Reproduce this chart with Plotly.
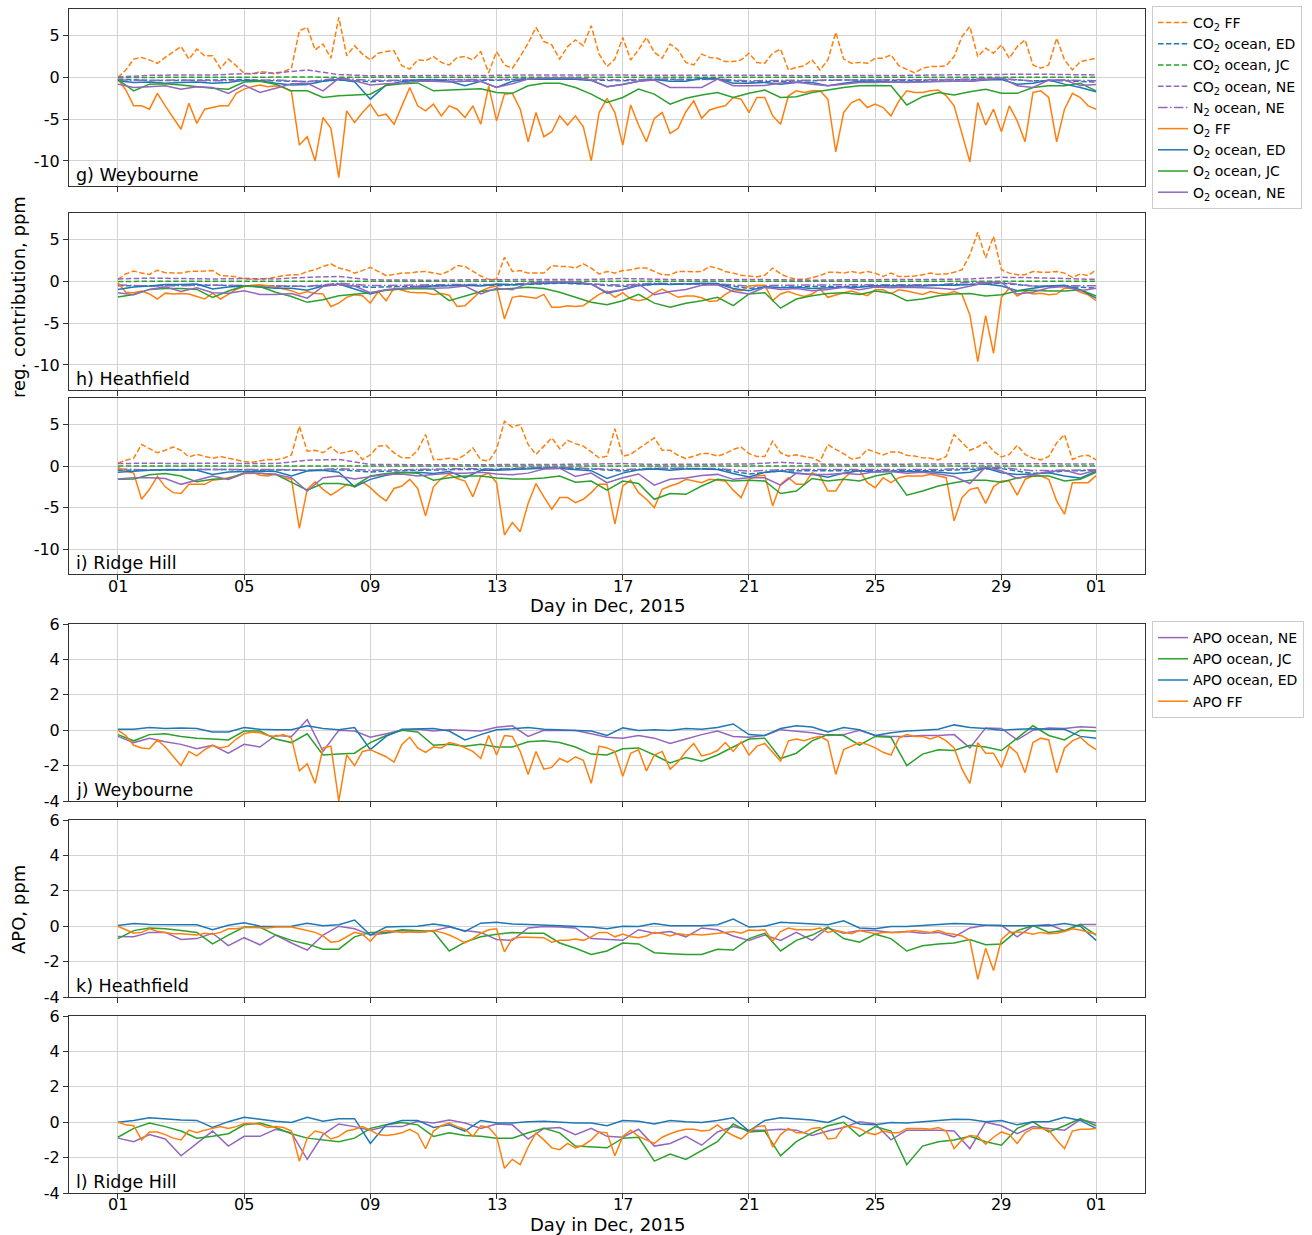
import plotly.graph_objects as go

# ---------------- time grids (days since 2015-12-01 00:00) ----------------
STEP_6H = 0.25   # 6-hourly samples
STEP_12H = 0.5   # 12-hourly samples
STEP_1D = 1.0    # daily samples

tick_days = [0, 4, 8, 12, 16, 20, 24, 28, 31]
tick_text = ["01", "05", "09", "13", "17", "21", "25", "29", "01"]
ytick_top = [-10, -5, 0, 5]
ytick_top_text = ["-10", "-5", "0", "5"]
ytick_bot = [-4, -2, 0, 2, 4, 6]
ytick_bot_text = ["-4", "-2", "0", "2", "4", "6"]

# ---------------- g) Weybourne ----------------
g_CO2_FF = [0.0, 0.9, 2.2, 2.4, 2.1, 1.7, 2.4, 3.0, 3.7, 2.2,
            3.4, 2.6, 2.6, 1.1, 2.2, 1.4, 0.5, 0.4, 0.7, 0.6,
            0.4, 0.7, 1.1, 5.6, 6.0, 3.3, 4.0, 2.3, 7.2, 2.6,
            3.8, 2.8, 2.1, 2.9, 3.1, 3.2, 1.4, 1.0, 2.1, 2.0,
            2.5, 1.8, 1.5, 2.4, 2.5, 2.1, 3.1, 0.55, 3.1, 1.5,
            1.1, 2.5, 4.1, 6.0, 4.3, 3.9, 2.2, 3.7, 4.5, 3.8,
            6.2, 2.8, 1.3, 2.2, 4.8, 2.1, 3.3, 4.8, 3.0, 2.3,
            4.0, 3.3, 1.8, 1.5, 2.8, 2.4, 2.3, 1.9, 1.9, 2.1,
            2.9, 1.8, 1.7, 2.9, 3.4, 0.9, 1.2, 1.4, 2.1, 0.9,
            2.1, 5.4, 2.2, 1.7, 1.8, 1.7, 2.3, 2.3, 2.7, 1.4,
            1.0, 0.55, 1.1, 1.3, 1.3, 1.4, 2.5, 4.9, 6.1, 2.5,
            3.5, 2.9, 3.9, 2.3, 3.7, 4.5, 1.5, 1.1, 1.5, 4.7,
            2.1, 0.9, 1.9, 2.1, 2.3]
g_O2_FF = [-0.2, -1.5, -3.4, -3.4, -3.8, -1.9, -3.4, -4.8, -6.2, -3.1,
           -5.5, -3.8, -3.6, -3.4, -3.4, -1.9, -1.4, -1.1, -0.9, -1.1,
           -1.0, -1.2, -1.7, -8.1, -7.1, -10.0, -4.8, -6.1, -12.0, -4.0,
           -5.4, -4.2, -3.2, -4.6, -4.4, -5.6, -3.4, -1.2, -3.4, -4.0,
           -3.2, -4.6, -3.4, -3.8, -4.8, -3.4, -5.6, -1.0, -5.2, -2.0,
           -1.9, -3.8, -7.7, -4.2, -7.1, -6.5, -4.6, -5.7, -4.6, -5.9,
           -10.0, -4.2, -2.5, -4.2, -8.1, -3.3, -5.7, -7.7, -4.9, -4.2,
           -6.7, -6.1, -4.1, -2.8, -4.9, -3.9, -3.6, -3.4, -2.4, -2.6,
           -4.2, -2.4, -2.4, -4.6, -5.6, -2.2, -1.6, -1.8, -1.6, -1.6,
           -2.6, -8.9, -4.2, -3.0, -2.6, -3.6, -3.2, -3.6, -4.6, -2.8,
           -1.6, -1.8, -1.8, -1.6, -1.5, -2.2, -3.4, -6.9, -10.1, -3.0,
           -5.7, -3.8, -6.5, -3.4, -5.2, -7.7, -1.8, -1.6, -2.4, -7.7,
           -3.8, -1.9, -2.4, -3.4, -3.8]
g_O2_ED = [-0.4, -0.6, -0.55, -0.7, -0.6, -0.55, -0.7, -0.6, -0.35, -0.4,
           -0.7, -0.9, -0.85, -0.45, -0.25, -0.5, -2.6, -0.9, -0.5, -0.3,
           -0.3, -0.45, -1.0, -0.45, -1.2, -0.45, -0.2, -0.2, -0.2, -0.2,
           -0.35, -1.1, -0.85, -0.45, -0.25, -0.45, -0.45, -0.1, -0.15, -0.7,
           -0.7, -0.6, -0.8, -0.6, -0.6, -1.0, -0.7, -0.45, -0.45, -0.55,
           -0.55, -0.5, -0.45, -0.45, -0.45, -0.3, -0.25, -0.8, -0.7, -0.3,
           -0.8, -1.2, -1.7]
g_O2_JC = [-0.25, -1.6, -0.8, -0.75, -0.9, -1.1, -1.3, -1.4, -0.55, -0.45,
           -0.8, -1.6, -1.6, -2.4, -2.2, -2.1, -2.0, -0.95, -0.75, -0.65,
           -1.6, -1.5, -1.4, -1.35, -1.8, -1.9, -1.0, -0.7, -0.7, -1.2,
           -2.0, -3.0, -2.4, -1.4, -2.0, -3.2, -2.5, -2.1, -1.8, -2.4,
           -1.9, -1.5, -2.4, -2.3, -1.8, -1.5, -1.2, -1.0, -0.95, -1.0,
           -3.3, -2.3, -1.8, -2.1, -1.7, -1.4, -1.9, -1.9, -1.2, -1.0,
           -1.0, -0.7, -1.6]
g_O2_NE = [-0.8, -1.2, -1.1, -1.0, -1.4, -1.1, -1.2, -1.9, -0.9, -1.8,
           -1.3, -0.75, -0.7, -1.6, -0.1, -0.4, -0.9, -0.75, -0.7, -0.45,
           -0.45, -0.55, -0.45, -0.45, -1.2, -0.75, -0.2, -0.05, -0.05, -0.05,
           -0.3, -1.1, -0.8, -0.45, -0.3, -1.2, -1.2, -1.2, -0.2, -1.0,
           -1.0, -0.95, -0.65, -0.55, -0.8, -1.0, -0.8, -0.6, -0.6, -0.55,
           -0.6, -0.5, -0.45, -0.45, -0.45, -0.25, -0.05, -1.0, -1.2, -0.3,
           -0.3, -0.95, -0.85]
g_CO2_ED = [-0.2, -0.35, -0.35, -0.3, -0.25, -0.4, -0.5, -0.3, -0.5, -0.35, -0.25,
            -0.3, -0.35, -0.15, -0.1, -0.3, -0.4, -0.2, -0.2, -0.2, -0.55, -0.45,
            -0.35, -0.3, -0.3, -0.35, -0.3, -0.25, -0.2, -0.4, -0.4, -0.55]
g_CO2_JC = [0.0, 0.02, 0.03, 0.02, 0.03, 0.03, 0.05, 0.02, 0.02, 0.02, 0.03,
            0.03, 0.02, 0.02, 0.02, 0.03, 0.03, 0.02, 0.03, 0.03, 0.04, 0.03,
            0.02, 0.02, 0.02, 0.03, 0.03, 0.03, 0.02, 0.03, 0.03, 0.02]
g_CO2_NE = [0.05, 0.25, 0.3, 0.3, 0.45, 0.55, 0.9, 0.35, 0.2, 0.2, 0.2,
            0.25, 0.25, 0.3, 0.3, 0.3, 0.25, 0.3, 0.25, 0.25, 0.3, 0.25,
            0.2, 0.2, 0.25, 0.25, 0.3, 0.35, 0.4, 0.4, 0.35, 0.3]
g_N2_NE = [-0.3, -0.35, -0.3, -0.4, -0.35, -0.3, -0.5, -0.1, -0.35, -0.3, -0.25,
           -0.25, -0.25, -0.15, -0.1, -0.2, -0.3, -0.2, -0.3, -0.2, -0.4, -0.35,
           -0.3, -0.3, -0.3, -0.3, -0.25, -0.2, -0.1, -0.45, -0.3, -0.4]

# ---------------- h) Heathfield ----------------
h_CO2_FF = [0.25, 0.9, 1.25, 1.0, 0.85, 1.35, 1.05, 1.0, 1.0, 1.2,
            1.2, 1.25, 1.3, 0.7, 0.65, 0.55, 0.3, 0.25, 0.25, 0.35,
            0.55, 0.7, 0.8, 0.8, 1.2, 1.4, 1.8, 2.1, 1.6, 1.4,
            1.0, 1.3, 1.7, 1.2, 0.7, 0.85, 1.0, 1.0, 1.15, 1.2,
            1.0, 0.85, 1.25, 1.9, 1.8, 1.2, 0.65, 0.25, 0.25, 2.9,
            1.2, 1.3, 1.0, 1.0, 1.0, 1.9, 1.8, 1.8, 1.6, 2.1,
            1.6, 0.9, 1.2, 1.0, 1.3, 1.4, 1.6, 1.6, 1.2, 0.8,
            0.8, 1.2, 1.2, 1.15, 1.2, 1.8, 1.6, 1.2, 1.0, 0.75,
            0.65, 0.55, 0.75, 1.6, 0.9, 0.5, 0.25, 0.25, 0.45, 0.7,
            1.1, 1.1, 1.0, 1.2, 1.0, 1.2, 1.0, 0.6, 1.0, 0.6,
            0.6, 0.65, 0.8, 1.0, 0.85, 0.9, 1.1, 1.4, 3.2, 5.9,
            2.8, 5.4, 1.4, 1.0, 0.8, 0.8, 1.2, 1.1, 1.1, 1.2,
            1.0, 0.5, 0.9, 0.7, 1.4]
h_O2_FF = [-0.15, -1.3, -1.35, -1.15, -1.5, -2.1, -1.4, -1.5, -1.45, -1.5,
           -1.8, -2.1, -1.4, -2.1, -1.55, -0.95, -0.6, -0.45, -0.4, -0.5,
           -0.7, -0.9, -1.1, -1.5, -1.2, -1.45, -1.5, -3.0, -2.6, -1.9,
           -1.6, -1.7, -2.6, -1.2, -2.3, -0.8, -1.05, -1.3, -1.35, -1.35,
           -1.55, -1.45, -1.65, -3.0, -2.9, -2.0, -1.15, -0.75, -0.55, -4.5,
           -1.9, -1.75, -1.9, -2.0, -1.55, -3.1, -3.1, -2.9, -3.0, -2.9,
           -2.2, -1.55, -1.15, -1.9, -1.35, -2.1, -2.3, -2.1, -1.4, -0.9,
           -1.4, -1.9, -1.75, -1.75, -1.95, -2.4, -2.3, -1.55, -1.0, -1.1,
           -0.55, -0.45, -0.45, -2.3, -1.5, -1.2, -1.55, -1.8, -1.5, -0.9,
           -1.9, -1.6, -1.35, -1.15, -1.4, -1.7, -1.0, -1.0, -1.45, -1.0,
           -1.15, -1.35, -1.55, -1.2, -1.4, -1.5, -1.2, -1.55, -4.0, -9.6,
           -4.1, -8.6, -1.9, -0.8, -1.75, -1.2, -1.5, -1.4, -1.6, -1.5,
           -0.8, -0.8, -1.3, -1.6, -2.3]
h_O2_ED = [-0.95, -0.65, -0.55, -0.35, -0.35, -0.3, -0.9, -0.65, -0.55, -0.65,
           -0.8, -0.8, -1.05, -0.55, -0.3, -0.9, -1.5, -1.0, -0.9, -0.6,
           -0.55, -0.55, -0.45, -0.55, -0.3, -0.4, -0.3, -0.25, -0.15, -0.2,
           -0.3, -1.4, -1.0, -0.5, -0.3, -0.35, -0.3, -0.2, -0.25, -0.85,
           -1.1, -0.6, -0.75, -0.7, -0.85, -0.75, -0.7, -0.7, -0.5, -0.55,
           -0.55, -0.55, -0.45, -0.45, -0.35, -0.3, -0.55, -1.1, -0.8, -0.55,
           -0.45, -1.0, -2.0]
h_O2_JC = [-1.85, -1.55, -0.95, -0.85, -0.85, -0.95, -1.9, -1.15, -0.55, -0.6,
           -1.3, -1.8, -2.5, -2.2, -1.7, -1.55, -1.35, -1.05, -0.9, -0.85,
           -0.9, -2.3, -1.75, -1.2, -0.95, -0.8, -0.7, -0.85, -1.3, -1.9,
           -2.5, -2.8, -2.3, -1.55, -2.6, -3.1, -2.6, -2.3, -1.9, -2.9,
           -1.5, -1.35, -3.2, -2.1, -1.7, -1.45, -1.35, -1.55, -1.15, -1.4,
           -2.3, -2.1, -1.7, -1.5, -1.45, -1.75, -1.6, -1.15, -1.05, -1.15,
           -1.15, -1.0, -1.75]
h_O2_NE = [-1.35, -1.6, -0.95, -0.65, -1.2, -0.75, -1.35, -1.4, -1.1, -1.55,
           -1.55, -1.45, -2.0, -0.6, -0.35, -0.55, -1.35, -1.0, -0.8, -0.7,
           -0.8, -0.75, -0.55, -1.5, -0.8, -1.0, -0.2, -0.05, -0.05, -0.05,
           -0.3, -1.3, -1.0, -0.3, -1.6, -1.2, -0.95, -0.45, -0.4, -1.2,
           -1.5, -0.7, -0.95, -0.85, -1.1, -0.95, -0.7, -1.0, -0.65, -0.75,
           -0.7, -0.75, -0.8, -0.95, -0.55, -0.15, -0.15, -1.5, -1.3, -0.75,
           -0.6, -1.1, -0.8]
h_CO2_ED = [-0.5, -0.55, -0.4, -0.45, -0.5, -0.55, -0.6, -0.4, -0.7, -0.6, -0.5,
            -0.45, -0.5, -0.35, -0.2, -0.35, -0.6, -0.35, -0.3, -0.35, -0.8, -0.7,
            -0.6, -0.6, -0.55, -0.5, -0.45, -0.35, -0.2, -0.55, -0.6, -0.8]
h_CO2_JC = [0.01, 0.02, 0.02, 0.03, 0.02, 0.02, 0.03, 0.02, 0.02, 0.02, 0.02,
            0.02, 0.02, 0.02, 0.01, 0.02, 0.03, 0.02, 0.02, 0.02, 0.03, 0.02,
            0.02, 0.02, 0.02, 0.02, 0.02, 0.02, 0.02, 0.02, 0.03, 0.02]
h_CO2_NE = [0.3, 0.4, 0.35, 0.3, 0.35, 0.3, 0.5, 0.6, 0.2, 0.15, 0.15,
            0.2, 0.2, 0.2, 0.2, 0.25, 0.35, 0.25, 0.2, 0.2, 0.25, 0.2,
            0.15, 0.2, 0.2, 0.2, 0.25, 0.3, 0.5, 0.45, 0.35, 0.25]
h_N2_NE = [-0.4, -0.55, -0.5, -0.45, -0.5, -0.5, -0.6, -0.2, -0.5, -0.45, -0.4,
           -0.35, -0.4, -0.2, -0.05, -0.3, -0.45, -0.2, -0.3, -0.3, -0.55, -0.45,
           -0.4, -0.4, -0.4, -0.4, -0.4, -0.1, -0.1, -0.55, -0.5, -0.5]

# ---------------- i) Ridge Hill ----------------
i_CO2_FF = [0.35, 0.7, 0.95, 2.6, 2.1, 1.6, 1.9, 2.3, 1.9, 1.1,
            1.4, 1.15, 0.95, 1.15, 0.95, 0.75, 0.55, 0.45, 0.6, 0.8,
            0.75, 0.95, 1.35, 4.8, 1.8, 1.9, 1.6, 2.3, 1.5, 1.7,
            1.9, 0.8, 1.35, 2.4, 2.5, 1.6, 1.0, 1.0, 1.9, 3.8,
            0.8, 0.8, 0.95, 0.8, 1.35, 2.2, 0.75, 0.6, 2.0, 5.4,
            4.7, 5.0, 2.6, 1.4, 2.4, 3.4, 2.1, 3.1, 2.7, 2.4,
            1.7, 1.0, 1.2, 4.5, 1.2, 1.4, 2.1, 2.8, 3.4, 1.9,
            1.9, 1.3, 0.9, 1.2, 1.5, 1.5, 1.2, 1.5, 2.0, 2.3,
            1.5, 1.15, 1.15, 3.0, 1.6, 1.2, 1.35, 1.15, 1.0, 0.55,
            2.6, 2.0, 1.5, 0.85, 1.0, 2.0, 1.7, 1.35, 1.7, 1.7,
            1.3, 1.2, 1.0, 0.95, 0.75, 1.15, 3.8, 2.8, 1.9, 2.3,
            2.9, 1.8, 1.1, 1.4, 2.5, 1.4, 0.95, 0.75, 1.15, 2.8,
            3.8, 0.8, 1.2, 1.3, 0.75]
i_O2_FF = [-0.15, -0.6, -0.85, -4.0, -2.8, -1.25, -2.5, -3.2, -3.3, -2.2,
           -2.2, -2.2, -1.7, -1.6, -1.4, -1.2, -0.8, -0.7, -1.1, -1.2,
           -0.95, -1.4, -1.6, -7.5, -2.8, -1.9, -2.8, -3.5, -2.9, -2.2,
           -2.5, -1.9, -2.6, -3.5, -4.2, -2.7, -2.4, -1.6, -2.7, -6.0,
           -2.5, -1.5, -1.0, -1.5, -1.8, -3.7, -1.2, -0.85, -2.0, -8.3,
           -6.8, -7.9, -4.5, -2.1, -3.7, -5.2, -3.8, -3.8, -4.4, -4.0,
           -3.2, -2.2, -2.2, -7.0, -2.4, -1.7, -3.2, -4.0, -5.0, -2.8,
           -2.4, -2.1, -1.6, -1.8, -2.0, -1.6, -1.7, -1.8, -2.9, -3.8,
           -1.6, -1.2, -1.1, -4.8, -2.2, -1.4, -2.2, -2.2, -0.8, -1.2,
           -3.0, -3.0, -1.5, -0.7, -0.5, -2.0, -2.6, -1.4, -2.0, -1.4,
           -1.2, -1.2, -1.2, -1.0, -1.2, -1.4, -6.6, -3.8, -2.8, -2.6,
           -4.5, -2.5, -1.8, -1.8, -3.5, -1.6, -1.2, -1.2, -1.6, -4.2,
           -5.8, -2.0, -2.0, -2.0, -1.15]
i_O2_ED = [-0.75, -0.6, -0.5, -0.45, -0.5, -0.5, -1.0, -0.7, -0.65, -0.6,
           -0.65, -1.2, -0.6, -0.5, -0.75, -2.5, -1.6, -1.1, -0.8, -0.75,
           -0.9, -0.65, -1.4, -0.5, -0.5, -0.4, -0.3, -0.25, -0.3, -0.4,
           -0.55, -1.5, -0.85, -0.45, -0.35, -0.5, -0.35, -0.35, -0.4, -0.9,
           -1.3, -0.75, -0.6, -0.85, -1.0, -1.35, -0.85, -0.55, -0.7, -0.65,
           -0.65, -0.65, -0.75, -0.9, -0.75, -0.25, -0.8, -1.0, -0.95, -0.8,
           -1.2, -1.45, -0.6]
i_O2_JC = [-1.6, -1.55, -1.05, -0.9, -1.2, -1.9, -1.6, -1.5, -0.85, -0.85,
           -1.0, -2.0, -2.9, -2.1, -2.1, -2.4, -1.2, -0.9, -0.75, -0.85,
           -1.7, -1.4, -1.2, -1.2, -1.45, -1.55, -1.55, -1.45, -1.2, -1.95,
           -1.8, -2.9, -1.8, -2.1, -4.0, -3.3, -3.4, -2.4, -1.6, -1.8,
           -1.7, -1.8, -3.3, -3.0, -1.5, -1.8, -1.6, -1.8, -1.2, -0.85,
           -3.5, -3.0, -2.4, -2.0, -1.7, -1.7, -1.95, -1.45, -1.2, -1.2,
           -1.8, -1.6, -0.75]
i_O2_NE = [-1.55, -1.4, -1.4, -1.5, -2.2, -1.7, -1.2, -1.6, -0.9, -0.85,
           -1.0, -1.4, -3.0, -1.4, -1.2, -1.55, -1.25, -1.0, -0.95, -1.2,
           -1.0, -0.85, -0.85, -0.75, -0.95, -1.05, -0.85, -0.35, -0.25, -1.25,
           -0.85, -2.0, -1.4, -0.95, -2.3, -1.6, -1.45, -1.15, -1.0, -1.6,
           -1.4, -1.4, -2.3, -0.85, -1.0, -1.0, -0.85, -1.0, -0.65, -0.65,
           -0.85, -0.75, -0.95, -1.25, -2.1, -0.1, -0.6, -1.5, -1.05, -0.65,
           -0.5, -1.0, -0.5]
i_CO2_ED = [-0.5, -0.45, -0.4, -0.4, -0.45, -0.5, -0.5, -0.45, -0.7, -0.55, -0.45,
            -0.4, -0.4, -0.25, -0.2, -0.35, -0.6, -0.3, -0.3, -0.35, -0.95, -0.6,
            -0.55, -0.55, -0.6, -0.6, -0.55, -0.4, -0.3, -0.9, -0.6, -0.5]
i_CO2_JC = [0.01, 0.02, 0.02, 0.02, 0.02, 0.03, 0.03, 0.02, 0.02, 0.02, 0.02,
            0.02, 0.02, 0.02, 0.02, 0.02, 0.03, 0.02, 0.02, 0.02, 0.03, 0.02,
            0.02, 0.02, 0.02, 0.02, 0.02, 0.02, 0.02, 0.02, 0.02, 0.02]
i_CO2_NE = [0.3, 0.35, 0.3, 0.35, 0.3, 0.3, 0.7, 0.8, 0.2, 0.15, 0.15,
            0.15, 0.2, 0.2, 0.2, 0.25, 0.3, 0.2, 0.2, 0.2, 0.25, 0.45,
            0.25, 0.2, 0.2, 0.2, 0.25, 0.3, 0.3, 0.3, 0.3, 0.25]
i_N2_NE = [-0.35, -0.45, -0.4, -0.4, -0.45, -0.4, -0.5, -0.3, -0.5, -0.45, -0.35,
           -0.3, -0.35, -0.2, -0.15, -0.3, -0.45, -0.25, -0.25, -0.3, -0.6, -0.45,
           -0.4, -0.4, -0.45, -0.45, -0.4, -0.25, -0.2, -0.55, -0.5, -0.45]

# ---------------- j) Weybourne APO ----------------
j_APO_FF = [0.0, -0.3, -0.85, -1.0, -1.05, -0.55, -0.95, -1.5, -2.0, -1.2,
            -1.45, -1.1, -0.85, -1.0, -0.9, -0.5, -0.2, -0.1, -0.15, -0.3,
            -0.35, -0.25, -0.45, -2.3, -1.9, -3.0, -1.0, -0.9, -4.0, -1.4,
            -2.0, -1.2, -1.1, -1.3, -1.5, -1.8, -0.8, -0.4, -1.0, -1.25,
            -0.95, -1.0, -0.7, -0.8, -1.0, -1.2, -1.6, -0.3, -1.4, -0.3,
            -0.35, -1.2, -2.5, -1.2, -2.2, -2.1, -1.6, -1.8, -1.5, -1.7,
            -3.0, -0.9, -1.0, -1.2, -2.6, -1.3, -1.1, -2.3, -1.4, -1.2,
            -2.2, -1.8, -1.2, -0.75, -1.45, -1.35, -1.15, -0.7, -1.2, -0.65,
            -1.4, -0.9, -0.75, -1.25, -1.75, -0.6, -0.5, -0.6, -0.45, -0.35,
            -0.6, -2.5, -1.1, -0.9, -0.7, -0.8, -1.0, -1.25, -1.4, -0.45,
            -0.25, -0.35, -0.35, -0.5, -0.35, -0.6, -1.0, -2.2, -3.0, -0.7,
            -1.3, -1.3, -2.1, -0.9, -1.3, -2.4, -0.7, -0.45, -0.55, -2.4,
            -1.0, -0.6, -0.4, -0.8, -1.1]
j_APO_ED = [0.05, 0.05, 0.15, 0.1, 0.12, 0.1, -0.1, -0.1, 0.15, 0.05,
            0.03, 0.03, 0.25, 0.1, 0.03, 0.15, -1.1, -0.35, 0.05, 0.08,
            0.1, -0.05, -0.55, -0.25, 0.03, 0.08, 0.15, 0.05, 0.02, 0.0,
            -0.05, -0.3, 0.13, -0.02, 0.03, -0.02, 0.1, 0.05, 0.15, 0.35,
            -0.25, -0.3, 0.1, 0.25, 0.18, -0.1, 0.15, 0.03, -0.3, -0.15,
            -0.05, 0.0, 0.05, 0.3, 0.15, 0.1, 0.0, 0.05, 0.08, 0.05,
            0.05, -0.35, -0.45]
j_APO_JC = [-0.25, -0.6, -0.25, -0.2, -0.35, -0.45, -0.5, -0.55, -0.05, -0.05,
            -0.5, -0.7, -0.2, -1.4, -1.35, -1.3, -0.7, -0.3, 0.0, -0.1,
            -0.85, -0.8, -0.9, -0.8, -0.95, -0.95, -0.65, -0.6, -0.7, -0.95,
            -1.35, -1.4, -1.05, -1.0, -1.4, -1.85, -1.55, -1.75, -1.4, -0.95,
            -0.5, -0.45, -1.6, -1.3, -0.6, -0.25, -0.3, -0.85, -0.35, -0.4,
            -2.0, -1.35, -1.1, -1.15, -0.85, -0.95, -1.15, -0.45, 0.25, -0.3,
            -0.55, 0.0, -0.05]
j_APO_NE = [-0.35, -0.7, -0.45, -0.65, -0.8, -1.05, -0.85, -1.3, -0.8, -0.95,
            -0.3, -0.35, 0.6, -1.2, 0.0, -0.05, -0.4, -0.2, 0.0, 0.05,
            -0.05, 0.02, -0.02, -0.05, 0.17, 0.25, -0.35, 0.0, -0.02, -0.02,
            -0.2, -0.4, -0.45, -0.3, -0.45, -0.75, -0.5, -0.25, -0.05, -0.35,
            -0.4, -0.3, 0.03, -0.05, -0.15, -0.3, -0.25, 0.0, -0.3, -0.35,
            -0.35, -0.3, -0.3, -0.25, -1.0, 0.13, 0.1, -0.55, 0.0, 0.13,
            0.1, 0.2, 0.15]

# ---------------- k) Heathfield APO ----------------
k_APO_FF = [0.0, -0.2, -0.4, -0.35, -0.15, -0.28, -0.35, -0.42, -0.42, -0.48,
            -0.5, -0.4, -0.45, -0.35, -0.15, -0.15, -0.07, -0.07, -0.1, -0.1,
            -0.05, -0.05, -0.05, -0.15, -0.25, -0.35, -0.55, -0.9, -0.85, -0.6,
            -0.35, -0.45, -0.85, -0.35, -0.25, -0.3, -0.35, -0.33, -0.33, -0.33,
            -0.25, -0.35, -0.5, -0.7, -0.95, -0.7, -0.4, -0.2, -0.15, -1.45,
            -0.7, -0.62, -0.62, -0.62, -0.65, -0.9, -0.8, -0.8, -0.72, -0.8,
            -0.6, -0.35, -0.35, -0.6, -0.45, -0.6, -0.65, -0.55, -0.35, -0.42,
            -0.55, -0.42, -0.5, -0.45, -0.5, -0.45, -0.42, -0.35, -0.3, -0.4,
            -0.22, -0.25, -0.2, -0.85, -0.3, -0.1, -0.2, -0.22, -0.2, -0.1,
            -0.35, -0.25, -0.35, -0.42, -0.25, -0.35, -0.42, -0.35, -0.35, -0.35,
            -0.3, -0.25, -0.3, -0.35, -0.25, -0.4, -0.45, -0.55, -0.8, -3.0,
            -1.25, -2.5, -0.75, -0.35, -0.33, -0.35, -0.45, -0.35, -0.42, -0.4,
            -0.3, -0.15, -0.22, -0.35, -0.45]
k_APO_ED = [0.04, 0.15, 0.1, 0.1, 0.1, 0.08, -0.2, 0.05, 0.2, 0.0,
            -0.02, 0.0, 0.17, 0.03, 0.08, 0.35, -0.5, -0.05, -0.02, 0.0,
            0.12, 0.0, -0.3, 0.17, 0.22, 0.12, 0.09, 0.05, 0.03, -0.05,
            -0.05, -0.15, 0.0, -0.02, 0.15, 0.03, 0.03, 0.03, 0.08, 0.4,
            -0.05, 0.0, 0.22, 0.17, 0.12, 0.08, 0.3, -0.1, -0.15, -0.02,
            -0.02, 0.03, 0.08, 0.15, 0.12, 0.05, 0.03, 0.03, 0.03, 0.03,
            0.15, 0.0, -0.8]
k_APO_JC = [-0.7, -0.25, -0.1, -0.15, -0.25, -0.35, -1.0, -0.5, -0.05, -0.05,
            -0.5, -0.8, -1.0, -1.3, -1.3, -0.6, -0.35, -0.35, -0.2, -0.25,
            -0.3, -1.4, -0.9, -0.6, -0.45, -0.35, -0.4, -0.4, -0.95, -1.25,
            -1.6, -1.4, -0.95, -1.0, -1.5, -1.55, -1.6, -1.6, -1.3, -1.35,
            -0.7, -0.4, -1.4, -0.8, -0.5, -0.05, -0.7, -0.9, -0.45, -0.7,
            -1.4, -1.1, -1.0, -0.95, -0.75, -1.05, -1.0, -0.25, 0.03, -0.35,
            -0.25, 0.1, -0.5]
k_APO_NE = [-0.58, -0.6, -0.35, -0.35, -0.75, -0.7, -0.4, -1.1, -0.65, -1.05,
            -0.5, -0.95, -1.35, -0.5, 0.0, -0.15, -0.5, -0.4, -0.25, -0.35,
            -0.25, -0.05, -0.25, -0.35, -0.75, -0.8, -0.1, -0.02, -0.05, -0.1,
            -0.7, -0.75, -0.8, -0.2, -0.4, -0.3, -0.6, -0.1, -0.2, -0.55,
            -0.8, -0.5, -0.8, -0.35, -0.8, -0.1, -0.4, -0.25, -0.25, -0.35,
            -0.3, -0.4, -0.35, -0.6, -0.1, 0.05, 0.05, -0.6, 0.02, 0.1,
            -0.25, 0.1, 0.1]

# ---------------- l) Ridge Hill APO ----------------
l_APO_FF = [0.0, -0.15, -0.2, -1.0, -0.55, -0.55, -0.7, -0.9, -1.0, -0.45,
            -0.6, -0.45, -0.35, -0.25, -0.35, -0.25, -0.07, -0.07, -0.12, -0.3,
            -0.25, -0.3, -0.5, -2.2, -0.9, -0.5, -0.6, -0.95, -0.8, -0.5,
            -0.4, -0.25, -0.45, -0.7, -0.75, -0.7, -0.6, -0.4, -0.65, -1.5,
            -0.5, -0.2, -0.05, -0.25, -0.4, -0.8, -0.2, -0.3, -0.8, -2.6,
            -2.1, -2.4, -1.4, -0.6, -1.0, -1.45, -1.55, -1.2, -1.45, -1.3,
            -1.0, -0.55, -0.6, -1.9, -0.8, -0.45, -0.8, -1.0, -1.2, -0.85,
            -0.65, -0.5, -0.4, -0.4, -0.5, -0.45, -0.15, -0.5, -0.75, -0.95,
            -0.55, -0.25, -0.2, -1.4, -0.7, -0.35, -0.6, -0.6, -0.35, -0.3,
            -0.95, -0.9, -0.25, -0.25, -0.35, -0.6, -0.7, -0.5, -0.6, -0.6,
            -0.35, -0.35, -0.35, -0.4, -0.3, -0.5, -1.5, -1.0, -0.75, -0.8,
            -1.25, -0.85, -0.55, -0.7, -1.2, -0.6, -0.35, -0.35, -0.45, -1.0,
            -1.5, -0.5, -0.4, -0.4, -0.35]
l_APO_ED = [0.0, 0.1, 0.25, 0.17, 0.13, 0.1, -0.3, 0.03, 0.28, 0.17,
            0.05, -0.02, 0.28, 0.05, 0.2, 0.2, -1.2, -0.15, 0.1, 0.1,
            -0.3, -0.15, -0.5, 0.1, -0.05, -0.05, 0.03, 0.05, 0.0, -0.05,
            -0.05, -0.2, 0.1, 0.05, -0.1, 0.1, 0.03, -0.02, 0.1, 0.25,
            -0.5, 0.1, 0.25, 0.17, 0.12, -0.02, 0.35, -0.1, -0.15, -0.02,
            -0.05, 0.03, 0.1, 0.17, 0.15, 0.03, 0.1, -0.15, 0.03, 0.03,
            0.28, 0.1, -0.35]
l_APO_JC = [-0.85, -0.35, -0.05, -0.25, -0.5, -0.9, -0.8, -0.65, -0.15, -0.05,
            -0.3, -0.65, -0.9, -1.0, -1.1, -0.9, -0.35, -0.15, -0.02, -0.15,
            -0.8, -0.6, -0.75, -0.8, -0.9, -0.9, -0.6, -0.35, -0.6, -1.35,
            -1.4, -1.45, -0.9, -0.85, -2.2, -1.8, -2.1, -1.6, -1.1, -0.1,
            -0.55, -0.5, -1.9, -1.1, -0.6, -0.2, 0.0, -0.8, -0.25, -0.5,
            -2.4, -1.35, -1.1, -1.0, -0.8, -1.1, -1.3, -0.35, 0.02, -0.55,
            -0.2, 0.2, -0.2]
l_APO_NE = [-0.9, -1.1, -0.7, -0.95, -1.9, -1.2, -0.5, -1.35, -0.8, -0.8,
            -0.4, -0.6, -2.1, -0.7, -0.1, -0.25, -0.45, -0.25, -0.25, 0.05,
            -0.05, 0.12, -0.05, -0.35, -0.1, -0.15, -0.95, -0.35, -0.3, -0.7,
            -0.35, -0.8, -0.85, -0.4, -1.35, -1.2, -0.8, -1.3, -0.55, -0.25,
            -0.45, -0.45, -0.4, -0.45, -0.75, -0.5, -0.3, 0.02, -0.1, -1.0,
            -0.45, -0.45, -0.45, -0.5, -1.5, 0.0, -0.2, -0.65, -0.25, -0.35,
            -0.45, 0.15, -0.05]

# ---------------- styling ----------------
BLUE, ORANGE, GREEN, PURPLE = "#1f77b4", "#ff7f0e", "#2ca02c", "#9467bd"
DASH = "5.5px,2.4px"
DASHDOT = "9.6px,2.4px,1.5px,2.4px"
FONT = "DejaVu Sans"

W, H = 1312, 1235
X0, X1 = 69, 1145
panels = {  # axis index: (top px, bottom px)
    1: (9, 186), 2: (213, 390), 3: (398, 574),
    4: (624, 801), 5: (820, 997), 6: (1016, 1193),
}


def py(p):
    return 1 - p / H


fig = go.Figure()


def add(vals, step, ax, name, color, dash, legend, show):
    xs = [k * step for k in range(len(vals))]
    suffix = "" if ax == 1 else str(ax)
    fig.add_trace(go.Scatter(
        x=xs, y=vals, mode="lines", name=name,
        line=dict(color=color, width=1.5, dash=dash),
        xaxis="x" + suffix, yaxis="y" + suffix,
        showlegend=show, legend=legend, legendgroup=name + legend,
        hoverinfo="skip"))


top_sets = [
    (1, g_CO2_FF, g_CO2_ED, g_CO2_JC, g_CO2_NE, g_N2_NE, g_O2_FF, g_O2_ED, g_O2_JC, g_O2_NE),
    (2, h_CO2_FF, h_CO2_ED, h_CO2_JC, h_CO2_NE, h_N2_NE, h_O2_FF, h_O2_ED, h_O2_JC, h_O2_NE),
    (3, i_CO2_FF, i_CO2_ED, i_CO2_JC, i_CO2_NE, i_N2_NE, i_O2_FF, i_O2_ED, i_O2_JC, i_O2_NE),
]
for ax, cff, ced, cjc, cne, nne, off, oed, ojc, one in top_sets:
    show = ax == 1
    add(cff, STEP_6H, ax, "CO<sub>2</sub> FF", ORANGE, DASH, "legend", show)
    add(ced, STEP_1D, ax, "CO<sub>2</sub> ocean, ED", BLUE, DASH, "legend", show)
    add(cjc, STEP_1D, ax, "CO<sub>2</sub> ocean, JC", GREEN, DASH, "legend", show)
    add(cne, STEP_1D, ax, "CO<sub>2</sub> ocean, NE", PURPLE, DASH, "legend", show)
    add(nne, STEP_1D, ax, "N<sub>2</sub> ocean, NE", PURPLE, DASHDOT, "legend", show)
    add(off, STEP_6H, ax, "O<sub>2</sub> FF", ORANGE, "solid", "legend", show)
    add(oed, STEP_12H, ax, "O<sub>2</sub> ocean, ED", BLUE, "solid", "legend", show)
    add(ojc, STEP_12H, ax, "O<sub>2</sub> ocean, JC", GREEN, "solid", "legend", show)
    add(one, STEP_12H, ax, "O<sub>2</sub> ocean, NE", PURPLE, "solid", "legend", show)

bottom_sets = [
    (4, j_APO_NE, j_APO_JC, j_APO_ED, j_APO_FF),
    (5, k_APO_NE, k_APO_JC, k_APO_ED, k_APO_FF),
    (6, l_APO_NE, l_APO_JC, l_APO_ED, l_APO_FF),
]
for ax, ne, jc, ed, ff in bottom_sets:
    show = ax == 4
    add(ne, STEP_12H, ax, "APO ocean, NE", PURPLE, "solid", "legend2", show)
    add(jc, STEP_12H, ax, "APO ocean, JC", GREEN, "solid", "legend2", show)
    add(ed, STEP_12H, ax, "APO ocean, ED", BLUE, "solid", "legend2", show)
    add(ff, STEP_6H, ax, "APO FF", ORANGE, "solid", "legend2", show)

layout = dict(
    width=W, height=H, margin=dict(l=0, r=0, t=0, b=0, pad=0, autoexpand=False),
    paper_bgcolor="white", plot_bgcolor="white",
    font=dict(family=FONT, size=16, color="black"),
    showlegend=True,
    legend=dict(x=1152 / W, y=py(6), xanchor="left", yanchor="top",
                bgcolor="white", bordercolor="#cccccc", borderwidth=1,
                font=dict(family=FONT, size=14), tracegroupgap=0,
                itemwidth=30),
    legend2=dict(x=1152 / W, y=py(621), xanchor="left", yanchor="top",
                 bgcolor="white", bordercolor="#cccccc", borderwidth=1,
                 font=dict(family=FONT, size=14), tracegroupgap=0,
                 itemwidth=30),
)

for ax, (top, bot) in panels.items():
    suffix = "" if ax == 1 else str(ax)
    layout["xaxis" + suffix] = dict(
        domain=[X0 / W, X1 / W], anchor="y" + suffix, automargin=False,
        range=[-1.55, 32.55], tickvals=tick_days, ticktext=tick_text,
        showticklabels=False, ticks="outside", ticklen=5,
        tickcolor="#333333", showgrid=True, gridcolor="#d3d3d3", gridwidth=1,
        showline=True, linecolor="#333333", linewidth=1, mirror=True,
        zeroline=False)
    if ax <= 3:
        yr, yt, ytt = [-13.0, 8.2], ytick_top, ytick_top_text
    else:
        yr, yt, ytt = [-4, 6], ytick_bot, ytick_bot_text
    layout["yaxis" + suffix] = dict(
        domain=[py(bot), py(top)], anchor="x" + suffix, automargin=False,
        range=yr, tickvals=yt, ticktext=ytt, ticks="outside", ticklen=5,
        tickcolor="#333333", showgrid=True, gridcolor="#d3d3d3", gridwidth=1,
        showline=True, linecolor="#333333", linewidth=1, mirror=True,
        zeroline=False, tickfont=dict(size=16))

fig.update_layout(**layout)

annotations = []
labels = {1: "g) Weybourne", 2: "h) Heathfield", 3: "i) Ridge Hill",
          4: "j) Weybourne", 5: "k) Heathfield", 6: "l) Ridge Hill"}
for ax, txt in labels.items():
    bot = panels[ax][1]
    annotations.append(dict(text=txt, x=74 / W, y=py(bot - 11), xref="paper", yref="paper",
                            xanchor="left", yanchor="middle", showarrow=False,
                            font=dict(size=17.5, family=FONT)))
annotations.append(dict(text="reg. contribution, ppm", x=18 / W, y=py(297), xref="paper",
                        yref="paper", textangle=-90, showarrow=False,
                        xanchor="center", yanchor="middle",
                        font=dict(size=18, family=FONT)))
annotations.append(dict(text="APO, ppm", x=18 / W, y=py(910), xref="paper",
                        yref="paper", textangle=-90, showarrow=False,
                        xanchor="center", yanchor="middle",
                        font=dict(size=18, family=FONT)))
for yy in (605, 1224):
    annotations.append(dict(text="Day in Dec, 2015", x=((X0 + X1) / 2) / W, y=py(yy),
                            xref="paper", yref="paper", showarrow=False,
                            xanchor="center", yanchor="middle",
                            font=dict(size=18, family=FONT)))
# x tick labels of the lowest panel in each block, placed on the data axis
for xref, yy in (("x3", 586), ("x6", 1204)):
    for d, t in zip(tick_days, tick_text):
        annotations.append(dict(text=t, x=d, xref=xref, y=py(yy), yref="paper",
                                xanchor="center", yanchor="middle", showarrow=False,
                                font=dict(size=16, family=FONT)))
fig.update_layout(annotations=annotations)

fig.write_html("out.html", config={"displayModeBar": False},
               post_script="document.body.style.margin='0';document.body.style.overflow='hidden';")
